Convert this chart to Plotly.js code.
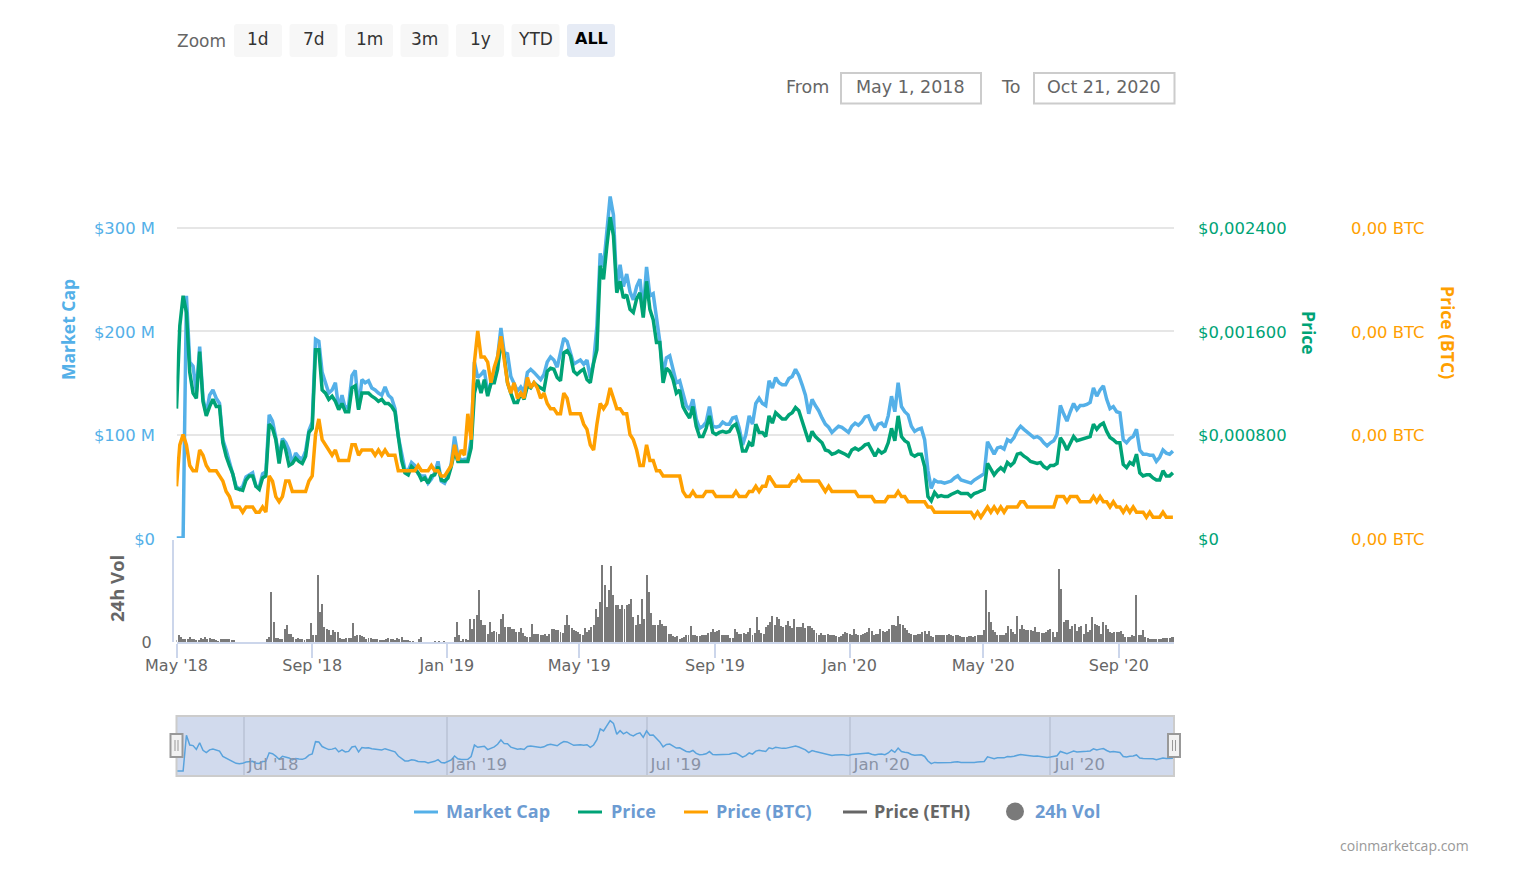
<!DOCTYPE html>
<html>
<head>
<meta charset="utf-8">
<script src="https://cdn.plot.ly/plotly-3.0.1.min.js"></script>
<style>html,body{margin:0;padding:0;background:#fff}#chart{width:1531px;height:876px}</style>
</head>
<body>
<div id="chart"></div>
<script>
// ---------- data ----------
const startDate = '2018-05-01';
const endDate = '2020-10-21';
const lineStepDays = 3;
const volStepDays = 2;

// Market cap, millions of USD, one reading every 3 days
const marketCapM = [
0,0,0,234,170,166,141,185,135,120,
138,143,135,130,95,85,73,62,50,47,
50,59,61,63,50,49,62,64,119,113,
97,77,96,92,85,72,82,78,76,84,
104,112,192,190,160,150,140,143,150,125,
138,125,128,157,162,125,153,150,152,145,
143,140,138,146,138,135,125,98,80,66,
65,73,70,62,60,60,53,57,63,74,
55,53,60,72,98,80,75,76,76,95,
170,155,158,162,140,150,158,175,203,179,
178,156,148,142,146,141,160,163,160,156,
153,158,170,175,172,165,180,193,190,178,
168,170,172,168,172,155,170,205,275,262,
300,330,312,240,264,243,255,238,230,243,
250,220,262,234,236,212,190,158,174,176,
163,150,152,140,128,124,134,115,106,108,
112,127,108,107,108,112,110,110,116,117,
106,90,100,118,110,130,135,130,128,152,
145,155,150,148,148,154,156,163,157,148,
138,120,134,128,123,116,110,107,102,105,
108,107,104,102,108,111,109,112,117,118,
110,104,110,111,107,118,137,122,150,127,
122,119,108,103,105,106,95,65,48,56,
54,54,53,54,55,58,60,56,55,54,
53,56,58,60,62,93,87,81,87,88,
86,95,93,97,104,108,105,102,99,97,
98,96,92,89,92,94,100,128,120,113,
122,130,124,128,128,129,131,145,137,143,
147,134,125,127,122,121,95,92,96,98,
105,85,81,81,80,80,74,78,85,82,
81,84];

// Price, millionths of a USD, one reading every 3 days
const priceMicroUsd = [
1000,1640,1872,1744,1280,1120,1080,1440,1056,944,
1016,1072,1016,1016,736,632,560,496,384,376,
368,448,480,480,400,376,464,480,880,848,
760,576,752,680,560,576,616,592,576,632,
816,848,1456,1456,1144,1120,1072,1096,1056,992,
1040,976,976,1160,1176,992,1120,1120,1120,1096,
1080,1056,1072,1040,1040,1016,976,784,600,504,
488,552,528,504,448,464,424,480,488,552,
448,440,464,552,672,592,592,592,592,696,
1120,1224,1120,1224,1096,1200,1200,1304,1512,1408,
1200,1120,1048,1048,1120,1072,1176,1160,1200,1176,
1160,1144,1288,1312,1304,1240,1216,1432,1448,1408,
1288,1264,1288,1304,1224,1200,1352,1456,2104,2000,
2256,2480,2336,1896,1984,1856,1880,1768,1744,1848,
1896,1704,1984,1768,1688,1512,1512,1200,1312,1288,
1224,1120,1144,1016,968,928,1016,864,784,784,
848,944,816,800,816,824,816,824,864,880,
800,672,672,736,712,880,816,816,784,944,
888,968,944,920,920,952,968,1008,984,904,
840,744,824,784,760,736,680,672,648,656,
672,656,648,632,680,696,680,696,720,728,
680,632,680,656,672,736,848,752,944,784,
752,736,648,632,648,648,552,320,288,352,
320,328,320,320,336,352,360,344,344,344,
320,344,352,368,376,576,528,488,520,544,
520,584,560,584,648,656,632,616,592,584,
576,584,552,536,560,560,576,776,736,680,
736,784,752,760,768,776,784,880,840,872,
888,824,776,760,736,736,568,544,584,568,
648,504,480,488,488,464,448,448,520,480,
480,504];

// Price in BTC, satoshis, one reading every 3 days
const priceSats = [
10,18,20,18,14,13,13,17,16,14,
13,13,13,12,11,9,8,6,6,6,
5,6,6,6,5,5,6,5,12,11,
8,7,8,11,11,9,9,9,9,9,
11,12,20,23,19,18,17,16,17,15,
15,15,15,18,18,16,17,17,17,17,
16,17,16,17,16,16,16,13,13,13,
13,13,13,14,13,13,13,14,13,13,
12,12,13,14,18,15,17,16,24,19,
34,40,35,35,34,30,33,35,39,34,
30,28,30,27,28,27,31,29,30,29,
27,28,26,25,25,24,24,28,27,24,
24,24,24,22,21,18,17,22,26,25,
26,29,27,25,25,24,24,20,19,17,
14,14,18,15,15,13,13,12,12,12,
12,12,12,9,8,8,9,8,8,8,
9,9,9,8,8,8,8,8,8,9,
8,8,8,9,9,10,9,10,10,12,
11,10,10,10,10,10,11,11,12,11,
11,11,11,11,11,10,9,10,9,9,
9,9,9,9,9,9,8,8,8,8,
8,7,7,7,7,8,8,8,9,8,
8,7,7,7,7,7,7,6,6,5,
5,5,5,5,5,5,5,5,5,5,
5,4,5,4,5,6,5,6,5,6,
5,6,6,6,6,7,7,6,6,6,
6,6,6,6,6,6,8,8,8,7,
8,8,8,7,7,7,7,8,7,8,
7,7,6,7,6,6,5,6,5,6,
5,5,5,4,5,4,4,4,5,4,
4,4];

// 24h volume, unlabelled scale, one reading every 2 days
const volume24h = [
5,22,14,10,8,8,15,10,8,7,
6,13,8,14,8,12,10,8,5,3,
8,8,9,8,8,7,7,0,0,0,
0,0,0,0,0,0,0,0,0,0,
0,8,15,150,60,12,12,10,10,40,
50,25,25,15,8,12,8,10,6,8,
10,58,22,20,200,90,115,45,40,35,
22,35,30,30,12,8,10,12,12,12,
58,18,22,22,18,15,10,12,12,8,
8,8,6,5,6,8,12,8,8,5,
12,8,14,5,5,5,2,4,0,0,
8,14,0,0,0,0,0,3,0,3,
0,3,0,0,0,0,15,60,20,4,
8,8,6,70,40,70,80,155,65,50,
50,25,60,30,32,30,25,70,85,45,
45,45,40,40,30,30,42,28,18,15,
15,55,25,25,25,22,20,25,18,25,
40,38,35,35,30,28,50,80,50,42,
35,32,30,25,20,42,30,35,45,52,
100,75,120,230,170,105,155,228,140,110,
112,100,110,100,110,115,130,75,50,80,
55,130,70,200,150,88,50,50,50,65,
55,48,48,25,25,18,15,18,10,12,
14,20,20,48,20,20,18,18,20,20,
22,28,30,40,30,32,35,20,22,22,
20,12,12,40,30,25,25,28,25,30,
42,22,28,75,35,28,25,45,52,60,
78,50,75,68,48,45,50,62,48,42,
68,45,45,45,58,42,48,48,42,35,
28,22,28,22,22,24,22,22,22,18,
15,18,25,30,28,25,22,38,24,20,
22,25,28,30,42,32,22,25,25,38,
32,30,32,38,50,50,48,78,55,50,
42,35,28,25,22,22,25,24,30,32,
25,32,18,15,22,20,22,20,22,20,
25,20,18,22,22,18,15,16,16,18,
18,15,18,20,22,22,35,157,90,60,
35,30,22,22,22,22,28,48,38,30,
25,78,40,50,40,36,36,35,32,45,
30,30,28,28,30,35,40,30,15,30,
220,160,60,65,65,40,48,55,32,45,
48,25,55,30,35,75,55,50,48,25,
60,50,40,30,28,30,30,30,32,25,
15,16,15,22,18,142,22,20,35,14,
12,10,8,8,10,10,10,12,12,13,
12,14,15];

const mainTickDates = ['2018-05-01','2018-09-01','2019-01-01','2019-05-01','2019-09-01','2020-01-01','2020-05-01','2020-09-01'];
const mainTickLabels = ["May '18","Sep '18","Jan '19","May '19","Sep '19","Jan '20","May '20","Sep '20"];
const navTickDates = ['2018-07-01','2019-01-01','2019-07-01','2020-01-01','2020-07-01'];
const navTickLabels = ["Jul '18","Jan '19","Jul '19","Jan '20","Jul '20"];
const capTickVals = [0,100,200,300,400];
const capTickLabels = ['$0','$100 M','$200 M','$300 M',''];
const priceTickVals = [0,800,1600,2400,3200];
const priceTickLabels = ['$0','$0,000800','$0,001600','$0,002400',''];
const satsTickVals = [0,20,40,60,80];
const satsTickLabels = ['0,00 BTC','0,00 BTC','0,00 BTC','0,00 BTC',''];
const zoomButtons = ['1d','7d','1m','3m','1y','YTD','ALL'];

// ---------- styles ----------
const BLUE='#54b0e8', GREEN='#00a376', ORANGE='#ffa000', GREY='#7a7a7a';
const FONT='"DejaVu Sans", sans-serif';
const LEGFONT='"Open Sans", sans-serif';
const W=1531, H=876;
const fx=p=>p/W, fy=p=>1-p/H;

function dateAt(i, step){
  const d=new Date(Date.parse(startDate+'T00:00:00Z')+i*step*86400000);
  return d.toISOString().slice(0,10);
}
const lineDates = marketCapM.map((_,i)=>dateAt(i,lineStepDays));
const volDates = volume24h.map((_,i)=>dateAt(i,volStepDays));

const lineStyle=(c,w)=>({color:c,width:w,shape:'linear'});
const traces=[
 {type:'bar',name:'24h Vol',x:volDates,y:volume24h,xaxis:'x',yaxis:'y4',marker:{color:GREY,line:{width:0}},width:volStepDays*0.9*86400000},
 {type:'scatter',mode:'lines',name:'Market Cap',x:lineDates,y:marketCapM,xaxis:'x',yaxis:'y',line:lineStyle(BLUE,3.5),cliponaxis:false},
 {type:'scatter',mode:'lines',name:'Price',x:lineDates,y:priceMicroUsd,xaxis:'x',yaxis:'y2',line:lineStyle(GREEN,3.5),cliponaxis:false},
 {type:'scatter',mode:'lines',name:'Price (BTC)',x:lineDates,y:priceSats,xaxis:'x',yaxis:'y3',line:lineStyle(ORANGE,3.5),cliponaxis:false},
 {type:'scatter',mode:'lines',name:'Navigator',x:lineDates,y:marketCapM,xaxis:'x2',yaxis:'y5',line:lineStyle(BLUE,1.5)}
];

function roundRect(x0,y0,x1,y1,r){
  const X=fx, Y=fy;
  return `M${X(x0+r)},${Y(y0)} L${X(x1-r)},${Y(y0)} Q${X(x1)},${Y(y0)} ${X(x1)},${Y(y0+r)} L${X(x1)},${Y(y1-r)} Q${X(x1)},${Y(y1)} ${X(x1-r)},${Y(y1)} L${X(x0+r)},${Y(y1)} Q${X(x0)},${Y(y1)} ${X(x0)},${Y(y1-r)} L${X(x0)},${Y(y0+r)} Q${X(x0)},${Y(y0)} ${X(x0+r)},${Y(y0)} Z`;
}
const shapes=[], annotations=[];
function rect(x0,y0,x1,y1,fill,line,lw,layer){
  shapes.push({type:'rect',xref:'paper',yref:'paper',x0:fx(x0),x1:fx(x1),y0:fy(y1),y1:fy(y0),fillcolor:fill,line:{color:line||'rgba(0,0,0,0)',width:lw||0},layer:layer||'below'});
}
function seg(x0,y0,x1,y1,c,w,layer){
  shapes.push({type:'line',xref:'paper',yref:'paper',x0:fx(x0),x1:fx(x1),y0:fy(y0),y1:fy(y1),line:{color:c,width:w},layer:layer||'below'});
}
function label(text,x,y,color,size,opts){
  annotations.push(Object.assign({text,xref:'paper',yref:'paper',x:fx(x),y:fy(y),xanchor:'center',yanchor:'middle',showarrow:false,font:{family:FONT,size,color}},opts||{}));
}

// range selector row
const btnLeft=[234,289.5,345,400.5,456,511.5,567];
label('Zoom',202,41,'#666666',17);
zoomButtons.forEach((t,i)=>{
  const active=t==='ALL';
  shapes.push({type:'path',xref:'paper',yref:'paper',path:roundRect(btnLeft[i],24,btnLeft[i]+48,57,3),fillcolor:active?'#e6ebf5':'#f7f7f7',line:{width:0},layer:'below'});
  label(active?'<b>'+t+'</b>':t,btnLeft[i]+24,39,active?'#000000':'#333333',active?16:17);
});
// date inputs
label('From',807,87,'#666666',17.5);
rect(841,73,981,103.5,'#ffffff','#cccccc',2);
label('May 1, 2018',910.5,87,'#666666',17.5);
label('To',1010,87,'#666666',17.5);
rect(1034,73,1174.5,103.5,'#ffffff','#cccccc',2);
label('Oct 21, 2020',1104,87,'#666666',17.5);

// axis titles
label('<b>Market Cap</b>',68,330,BLUE,17,{textangle:-90,font:{family:LEGFONT,size:17.5,color:BLUE}});
label('<b>Price</b>',1309,333,GREEN,17,{textangle:90,font:{family:LEGFONT,size:17.5,color:GREEN}});
label('<b>Price (BTC)</b>',1448,332,ORANGE,17,{textangle:90,font:{family:LEGFONT,size:17.5,color:ORANGE}});
label('<b>24h Vol</b>',116,589,'#666666',17,{textangle:-90,font:{family:LEGFONT,size:18.5,color:'#666666'}});

// navigator overlay and handles
rect(176.5,716,1174,776,'rgba(102,133,194,0.3)','#cccccc',2,'above');
[[170.5,182.5],[1168,1180]].forEach(h=>{
  rect(h[0],734,h[1],757,'#f2f2f2','#999999',2,'above');
  const c=(h[0]+h[1])/2;
  seg(c-1.5,740,c-1.5,751,'#999999',1,'above');
  seg(c+1.5,740,c+1.5,751,'#999999',1,'above');
});

// legend
const legendItems=[
 {name:'Market Cap',color:BLUE,textColor:'#6c9bd2',x0:414,tx:443.5,kind:'line'},
 {name:'Price',color:GREEN,textColor:'#6c9bd2',x0:578,tx:608.5,kind:'line'},
 {name:'Price (BTC)',color:ORANGE,textColor:'#6c9bd2',x0:684,tx:713.5,kind:'line'},
 {name:'Price (ETH)',color:'#666666',textColor:'#666666',x0:843,tx:872.5,kind:'line'},
 {name:'24h Vol',color:GREY,textColor:'#6c9bd2',x0:1006,tx:1033,kind:'dot'}
];
legendItems.forEach(it=>{
  if(it.kind==='line'){ seg(it.x0,812,it.x0+24,812,it.color,3); }
  else { shapes.push({type:'circle',xref:'paper',yref:'paper',x0:fx(it.x0),x1:fx(it.x0+18),y0:fy(820.5),y1:fy(802.5),fillcolor:it.color,line:{width:0},layer:'below'}); }
  annotations.push({text:'<b>'+it.name+'</b>',xref:'paper',yref:'paper',x:fx(it.tx),y:fy(811),xanchor:'left',yanchor:'middle',showarrow:false,font:{family:LEGFONT,size:18,color:it.textColor}});
});
label('coinmarketcap.com',1470.5,845,'#999999',13.5,{xanchor:'right',font:{family:LEGFONT,size:14,color:'#999999'}});

const GRID='#e6e6e6';
const xDom=[fx(176.5),fx(1174)];
const layout={
 width:W,height:H,margin:{l:0,r:0,t:0,b:0},paper_bgcolor:'#ffffff',plot_bgcolor:'rgba(0,0,0,0)',
 showlegend:false,hovermode:false,dragmode:false,bargap:0,
 font:{family:FONT,size:16,color:'#666666'},
 xaxis:{domain:xDom,anchor:'y4',type:'date',range:[startDate,endDate],tickmode:'array',tickvals:mainTickDates,ticktext:mainTickLabels,
   ticks:'outside',ticklen:14,tickwidth:2,tickcolor:'#ccd6eb',showline:true,linecolor:'#ccd6eb',linewidth:2,showgrid:false,zeroline:false,ticklabelstandoff:-6,
   tickangle:0,tickfont:{family:FONT,size:16,color:'#666666'},fixedrange:true},
 yaxis:{domain:[fy(538),fy(124)],range:[0,400],anchor:'free',position:fx(155),side:'left',tickmode:'array',tickvals:capTickVals,ticktext:capTickLabels,ticklabelshift:1,
   showgrid:true,gridcolor:GRID,gridwidth:2,zeroline:false,showline:false,ticks:'',tickfont:{family:FONT,size:16.4,color:BLUE},fixedrange:true},
 yaxis2:{overlaying:'y',range:[0,3200],anchor:'free',position:fx(1197),side:'right',tickmode:'array',tickvals:priceTickVals,ticktext:priceTickLabels,ticklabelshift:1,
   showgrid:false,zeroline:false,showline:false,ticks:'',tickfont:{family:FONT,size:16.4,color:GREEN},fixedrange:true},
 yaxis3:{overlaying:'y',range:[0,80],anchor:'free',position:fx(1350),side:'right',tickmode:'array',tickvals:satsTickVals,ticktext:satsTickLabels,ticklabelshift:1,
   showgrid:false,zeroline:false,showline:false,ticks:'',tickfont:{family:FONT,size:16.4,color:ORANGE},fixedrange:true},
 yaxis4:{domain:[fy(642),fy(540)],range:[0,306],anchor:'free',position:fx(173),side:'left',tickmode:'array',tickvals:[0],ticktext:['0'],
   showgrid:false,zeroline:false,showline:true,linecolor:'#ccd6eb',linewidth:2,ticks:'',ticklabelstandoff:17,tickfont:{family:FONT,size:16,color:'#666666'},fixedrange:true},
 xaxis2:{domain:xDom,anchor:'y5',type:'date',range:[startDate,endDate],tickmode:'array',tickvals:navTickDates,ticktext:navTickLabels,
   ticklabelposition:'inside right',ticklabelshift:4,ticklabelstandoff:-3,showgrid:true,gridcolor:GRID,gridwidth:2,showline:false,zeroline:false,ticks:'',tickangle:0,
   tickfont:{family:FONT,size:16.5,color:'#999999'},fixedrange:true},
 yaxis5:{domain:[fy(776),fy(716)],range:[-33,360],anchor:'x2',showticklabels:false,showgrid:false,zeroline:false,showline:false,ticks:'',fixedrange:true},
 shapes,annotations
};
Plotly.newPlot('chart',traces,layout,{displayModeBar:false,staticPlot:true,responsive:false});
</script>
</body>
</html>
